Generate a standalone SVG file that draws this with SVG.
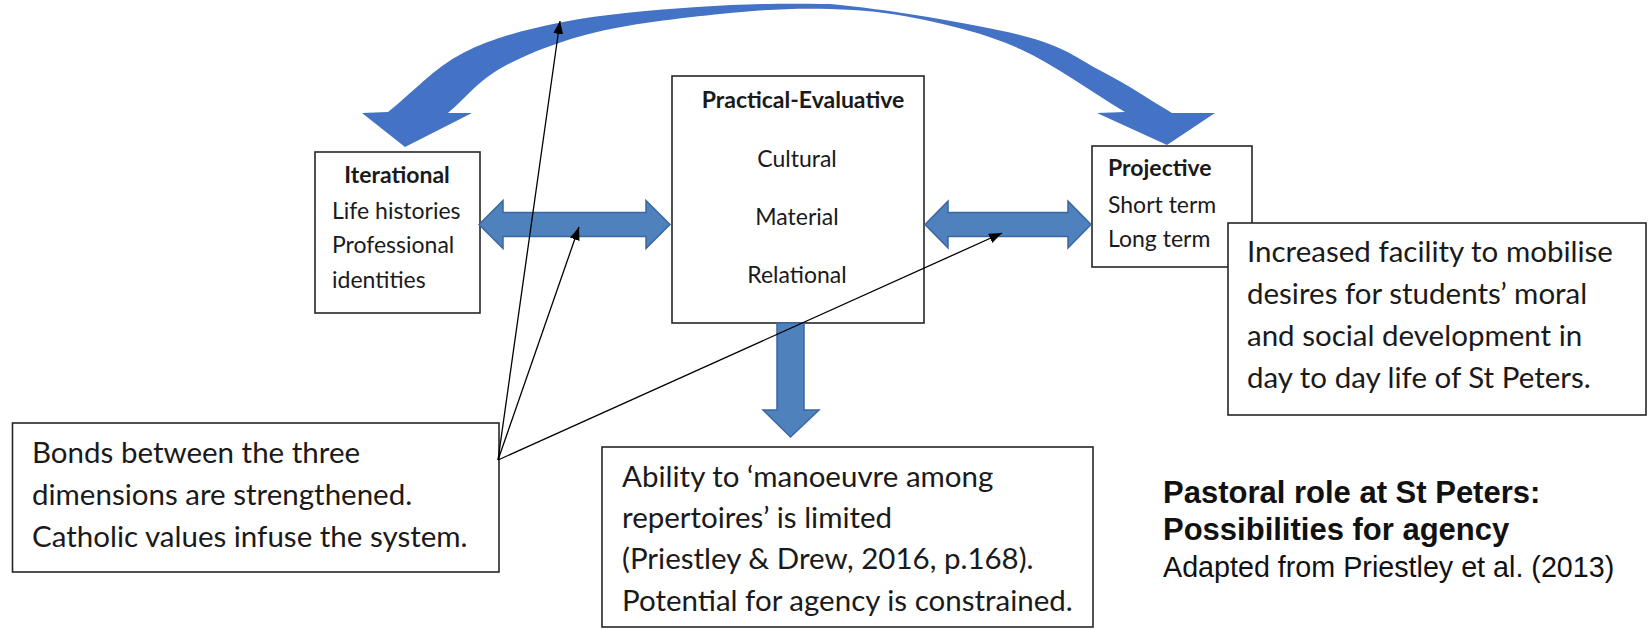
<svg xmlns="http://www.w3.org/2000/svg" width="1648" height="629" viewBox="0 0 1648 629">
<defs>
<style>
.box{fill:#fff;stroke:#262626;stroke-width:1.6}
.sm{font-family:Lato,"Liberation Sans",sans-serif;font-size:23px;fill:#1a1a1a}
.smb{font-family:Lato,"Liberation Sans",sans-serif;font-size:23px;font-weight:bold;fill:#1a1a1a}
.lg{font-family:Lato,"Liberation Sans",sans-serif;font-size:29.5px;fill:#1a1a1a}
.tb{font-family:"Liberation Sans",Arial,sans-serif;font-size:31px;font-weight:bold;fill:#111}
.tr{font-family:"Liberation Sans",Arial,sans-serif;font-size:28.7px;fill:#111}
.curve{fill:#4472C4}
.blk{fill:#4F81BD;stroke:#3A67A0;stroke-width:1.5}
.thin{fill:none;stroke:#000;stroke-width:1.3}
</style>
<marker id="ah" markerUnits="userSpaceOnUse" markerWidth="14" markerHeight="11" refX="13" refY="5" orient="auto">
<path d="M0,0 L13,5 L0,10 z" fill="#000"/>
</marker>
</defs>
<rect width="1648" height="629" fill="#fff"/>

<g id="iterational">
<rect class="box" x="315" y="152" width="165" height="161"/>
<text class="smb" x="397" y="183" text-anchor="middle">Iterational</text>
<text class="sm" x="332" y="219">Life histories</text>
<text class="sm" x="332" y="253">Professional</text>
<text class="sm" x="332" y="288">identities</text>
</g>

<g id="practical-evaluative">
<rect class="box" x="672" y="76" width="252" height="247"/>
<text class="smb" x="803" y="108" text-anchor="middle">Practical-Evaluative</text>
<text class="sm" x="797" y="167" text-anchor="middle">Cultural</text>
<text class="sm" x="797" y="225" text-anchor="middle">Material</text>
<text class="sm" x="797" y="283" text-anchor="middle">Relational</text>
</g>

<g id="projective">
<rect class="box" x="1092" y="146" width="160" height="121"/>
<text class="smb" x="1108" y="176">Projective</text>
<text class="sm" x="1108" y="213">Short term</text>
<text class="sm" x="1108" y="247">Long term</text>
</g>

<g id="moral-development">
<rect class="box" x="1228" y="223" width="418" height="192"/>
<text class="lg" x="1247" y="262">Increased facility to mobilise</text>
<text class="lg" x="1247" y="304">desires for students’ moral</text>
<text class="lg" x="1247" y="346">and social development in</text>
<text class="lg" x="1247" y="388">day to day life of St Peters.</text>
</g>

<g id="bonds">
<rect class="box" x="12.5" y="423" width="486.5" height="149"/>
<text class="lg" x="32" y="463">Bonds between the three</text>
<text class="lg" x="32" y="505">dimensions are strengthened.</text>
<text class="lg" x="32" y="547">Catholic values infuse the system.</text>
</g>

<g id="manoeuvre">
<rect class="box" x="602" y="447" width="491" height="180"/>
<text class="lg" x="622" y="487">Ability to ‘manoeuvre among</text>
<text class="lg" x="622" y="528">repertoires’ is limited</text>
<text class="lg" x="622" y="569">(Priestley &amp; Drew, 2016, p.168).</text>
<text class="lg" x="622" y="611">Potential for agency is constrained.</text>
</g>

<g id="title">
<text class="tb" x="1163" y="503">Pastoral role at St Peters:</text>
<text class="tb" x="1163" y="540">Possibilities for agency</text>
<text class="tr" x="1163" y="577">Adapted from Priestley et al. (2013)</text>
</g>

<g id="connectors">
<path class="curve" d="M362,113 L405,147 L472,113 L448,113 C466.3,97.7 478.2,80.5 503,67 C527.8,53.5 559.2,41 597,32 C634.8,23 691.2,16.8 730,13 C768.8,9.2 798.3,8 830,9 C861.7,10 888.3,12.3 920,19 C951.7,25.7 985.8,33.5 1020,49 C1054.2,64.5 1090,91 1125,112 L1097,113 L1167,145 L1215,113 L1172,113 C1149,99.3 1128.3,85 1103,72 C1077.7,59 1065.5,46.3 1020,35 C974.5,23.7 883.8,8.7 830,4 C776,3 741.5,4 697,7 C652.5,10 602,14.3 563,22 C524,29.7 492.2,38 463,53 C433.8,68 413,92.3 388,112 Z"/>
<path class="blk" d="M479,224.5 L503,200.5 L503,212.5 L646,212.5 L646,200.5 L670,224.5 L646,248.5 L646,236.5 L503,236.5 L503,248.5 Z"/>
<path class="blk" d="M925,224.5 L948,201 L948,212.5 L1068,212.5 L1068,201 L1091,224.5 L1068,248 L1068,236.5 L948,236.5 L948,248 Z"/>
<path class="blk" d="M777,323 L804,323 L804,410 L819,410 L790.5,437 L763,410 L777,410 Z"/>
<line class="thin" x1="498" y1="460" x2="560" y2="21" marker-end="url(#ah)"/>
<line class="thin" x1="498" y1="460" x2="579" y2="227" marker-end="url(#ah)"/>
<line class="thin" x1="498" y1="460" x2="1002" y2="233" marker-end="url(#ah)"/>
</g>
</svg>
